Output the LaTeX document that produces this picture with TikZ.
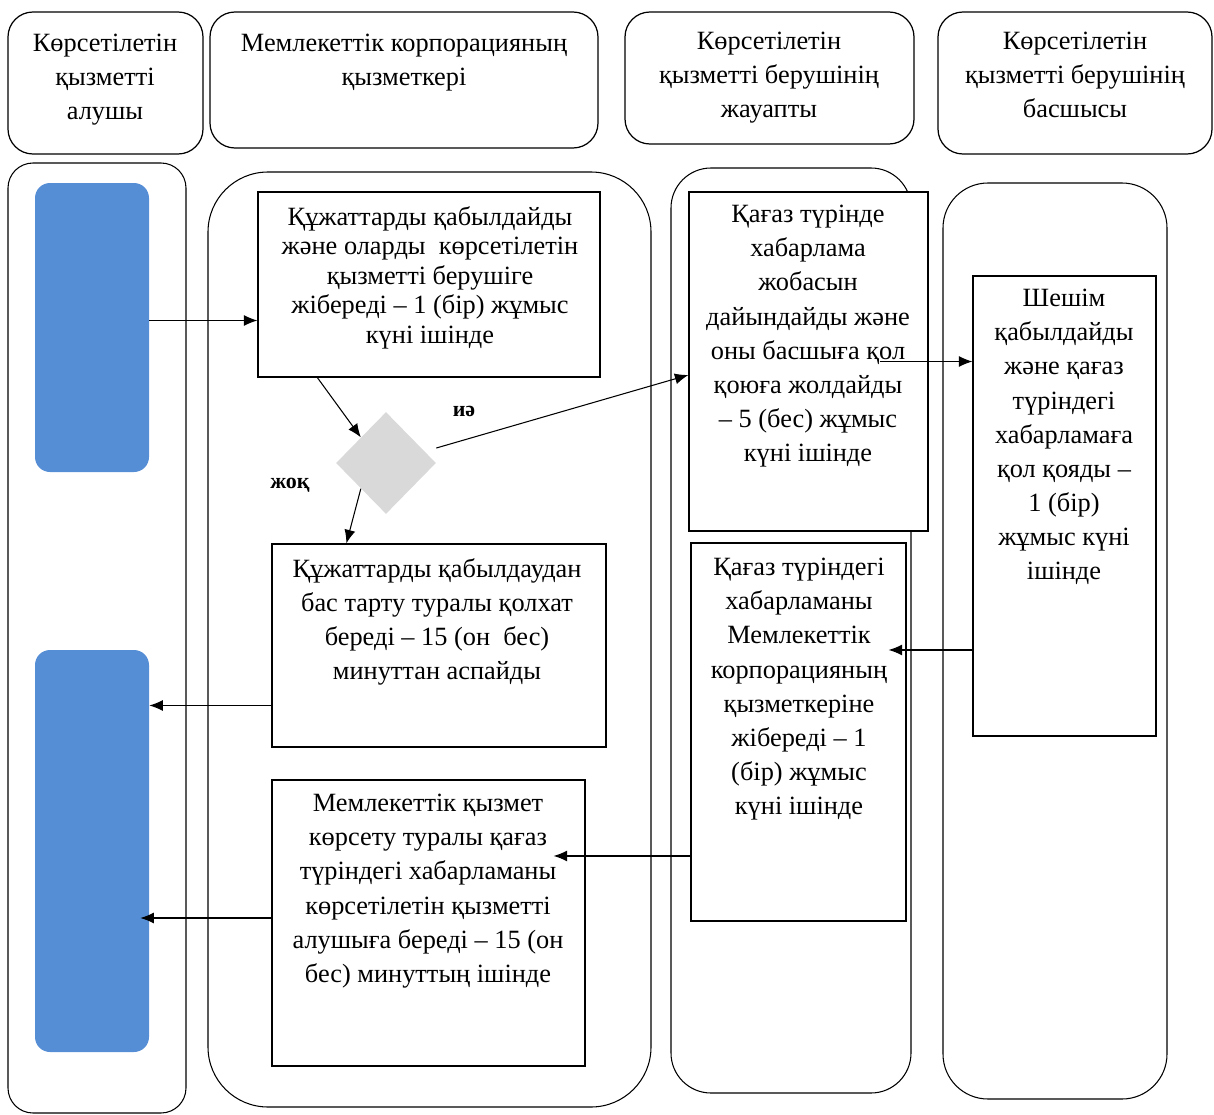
\documentclass[tikz,border=0pt]{standalone}
\usepackage{fontspec}
\setmainfont{Liberation Serif}
\usetikzlibrary{arrows.meta,shapes.geometric,fit}
\definecolor{stepblue}{RGB}{85,142,213}
\definecolor{diagray}{RGB}{217,217,217}

\begin{document}
\begin{tikzpicture}[x=0.02cm, y=-0.02cm, >={Latex[length=2.7mm,width=2.2mm]},
  every node/.style={inner sep=0pt},
  head/.style={draw, line width=0.7pt, rounded corners=0.5cm},
  procbox/.style={draw, fill=white, line width=0.7pt},
  bluebar/.style={fill=stepblue, rounded corners=0.3cm},
  decision/.style={diamond, fill=diagray, minimum width=2cm, minimum height=2.04cm},
  txt/.style={align=center, anchor=north, font=\fontsize{15}{19.4}\selectfont},
  answer/.style={font=\fontsize{12.5}{14}\selectfont\bfseries},
  lane/.style={line width=0.6pt},
  flow/.style={->, line width=0.6pt}]
  \useasboundingbox (0,0) rectangle (1214,1115);

  % headers
  \node[head, fit={(8,12) (203,154)}] (h1) {};
  \node[head, fit={(210,12) (598,148)}] (h2) {};
  \node[head, fit={(625,12) (914,144)}] (h3) {};
  \node[head, fit={(938,12) (1212,154)}] (h4) {};
  \node[txt] (h1txt) at (105,34) {Көрсетілетін\\қызметті\\алушы};
  \node[txt] (h2txt) at (404,34) {Мемлекеттік корпорацияның\\қызметкері};
  \node[txt] (h3txt) at (769,32) {Көрсетілетін\\қызметті берушінің\\жауапты};
  \node[txt] (h4txt) at (1075,32) {Көрсетілетін\\қызметті берушінің\\басшысы};

  % lanes
  \draw[lane, rounded corners=0.5cm] (8,163) rectangle (186,1113);
  \draw[lane, rounded corners=1.2cm] (208,172) rectangle (651,1107);
  \draw[lane, rounded corners=0.8cm] (671,168) rectangle (911,1093);
  \draw[lane, rounded corners=0.9cm] (943,183) rectangle (1167,1099);

  % receiver
  \node[bluebar, fit={(35,183) (149,472)}] (b1) {};
  \node[bluebar, fit={(35,650) (149,1052)}] (b2) {};

  % corporation
  \node[procbox, fit={(258,192) (600,377)}] (p1) {};
  \node[txt, font=\fontsize{15}{16.8}\selectfont] (p1txt) at (430,206)
    {Құжаттарды қабылдайды\\және оларды \ көрсетілетін\\қызметті берушіге\\жібереді – 1 (бір) жұмыс\\күні ішінде};
  \node[decision] (dia) at (386,463) {};
  \node[answer] (yes) at (464,411) {иә};
  \node[answer] (no) at (290,485) {жоқ};
  \node[procbox, fit={(272,544) (606,747)}] (p2) {};
  \node[txt] (p2txt) at (437,558)
    {Құжаттарды қабылдаудан\\бас тарту туралы қолхат\\береді – 15 (он \ бес)\\минуттан аспайды};
  \node[procbox, fit={(272,780) (585,1066)}] (p6) {};
  \node[txt] (p6txt) at (428,794)
    {Мемлекеттік қызмет\\көрсету туралы қағаз\\түріндегі хабарламаны\\көрсетілетін қызметті\\алушыға береді – 15 (он\\бес) минуттың ішінде};

  % responsible
  \node[procbox, fit={(689,192) (928,531)}] (p3) {};
  \node[txt] (p3txt) at (808,205)
    {Қағаз түрінде\\хабарлама\\жобасын\\дайындайды және\\оны басшыға қол\\қоюға жолдайды\\– 5 (бес) жұмыс\\күні ішінде};
  \node[procbox, fit={(691,543) (906,921)}] (p4) {};
  \node[txt] (p4txt) at (799,558)
    {Қағаз түріндегі\\хабарламаны\\Мемлекеттік\\корпорацияның\\қызметкеріне\\жібереді – 1\\(бір) жұмыс\\күні ішінде};

  % head
  \node[procbox, fit={(973,276) (1156,736)}] (p5) {};
  \node[txt] (p5txt) at (1064,289)
    {Шешім\\қабылдайды\\және қағаз\\түріндегі\\хабарламаға\\қол қояды –\\1 (бір)\\жұмыс күні\\ішінде};

  % connectors
  \draw[flow] ([yshift=0.14cm]b1.east) -- ([yshift=0.14cm]b1.east -| p1.west);
  \draw[flow] ([xshift=1.2cm]p1.south west) -- (dia.north west);
  \draw[flow] ([yshift=0.3cm]dia.east) -- ([yshift=-0.27cm]p3.west);
  \draw[flow] (dia.south west) -- ([xshift=1.5cm]p2.north west);
  \draw[flow] ([yshift=-1.2cm]p2.west) -- ([yshift=-1.2cm]p2.west -| b2.east);
  \draw[flow] ([xshift=-0.98cm]p3.east) -- (p3.east -| p5.west);
  \draw[flow] ([yshift=-2.88cm]p5.west) -- ([xshift=-0.36cm,yshift=-2.88cm]p4.east |- p5.west);
  \draw[flow] ([yshift=-2.48cm]p4.west) -- ([xshift=-0.64cm,yshift=-2.48cm]p6.east |- p4.west);
  \draw[flow] ([yshift=0.1cm]p6.west) -- ([xshift=-0.18cm,yshift=0.1cm]b2.east |- p6.west);
\end{tikzpicture}
\end{document}
